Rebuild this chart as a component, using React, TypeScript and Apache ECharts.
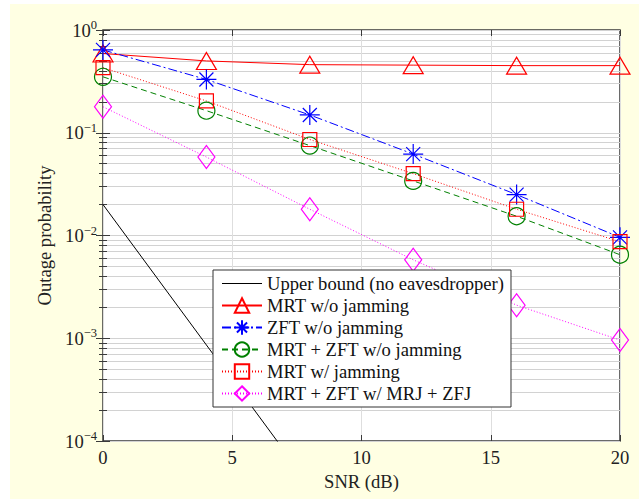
import React, { useEffect, useRef } from "react";
import * as echarts from "echarts";

const snr = [0, 4, 8, 12, 16, 20];
const upperSnr = [0, 4, 8];
const upperBound = [0.02, 8.6e-4, 3.7e-5];
const mrtNoJam = [0.59, 0.5, 0.46, 0.455, 0.45, 0.45];
const zftNoJam = [0.64, 0.33, 0.149, 0.062, 0.025, 0.0096];
const mrtZftNoJam = [0.35, 0.164, 0.075, 0.034, 0.0154, 0.0065];
const mrtJam = [0.43, 0.204, 0.086, 0.04, 0.018, 0.0087];
const mrtZftMrjZfj = [0.179, 0.058, 0.018, 0.0058, 0.0021, 0.00096];

const names = [
  "Upper bound (no eavesdropper)",
  "MRT w/o jamming",
  "ZFT w/o jamming",
  "MRT + ZFT w/o jamming",
  "MRT w/ jamming",
  "MRT + ZFT w/ MRJ + ZFJ",
];

const FONT = "'Liberation Serif', 'Times New Roman', 'DejaVu Serif', serif";
const FS = 18.6;
const STAR = "path://M0,10L20,10M10,0L10,20M3,3L17,17M17,3L3,17";
const CLEAR = "rgba(0,0,0,0)";

function pairs(xs: number[], ys: number[]) {
  return xs.map((x, i) => [x, ys[i]]);
}

function markerSeries(
  name: string,
  ys: number[],
  color: string,
  lineType: any,
  symbol: string,
  symbolSize: any
) {
  return {
    name,
    type: "line",
    data: pairs(snr, ys),
    symbol,
    symbolSize,
    showSymbol: true,
    color,
    lineStyle: { color, width: 1, type: lineType },
    itemStyle: { color: CLEAR, borderColor: color, borderWidth: 1.2 },
    clip: true,
  };
}

export default function App() {
  const ref = useRef<HTMLDivElement>(null);
  useEffect(() => {
    if (!ref.current) return;
    const chart = echarts.init(ref.current, undefined, { renderer: "svg" });
    const supLabel = (v: number) => {
      const e = Math.round(Math.log10(v));
      const s = e < 0 ? "\u2212" + String(-e) : String(e);
      return "{b|10}{s|" + s + "}";
    };
    const rich = {
      b: { fontSize: FS, fontFamily: FONT, color: "#222" },
      s: { fontSize: 12.5, fontFamily: FONT, color: "#222", padding: [0, 0, 10, 0] },
    };
    chart.setOption({
      animation: false,
      backgroundColor: "transparent",
      grid: {
        left: 103,
        top: 30,
        right: 19,
        bottom: 58,
        show: true,
        backgroundColor: "#ffffff",
        borderColor: "#3a3a3a",
        borderWidth: 1.5,
      },
      xAxis: [
        {
          type: "value",
          min: 0,
          max: 20,
          interval: 5,
          name: "SNR (dB)",
          nameLocation: "middle",
          nameGap: 30,
          nameTextStyle: { fontFamily: FONT, fontSize: FS, color: "#222" },
          axisLine: { show: false },
          axisTick: { inside: true, length: 6, lineStyle: { color: "#3a3a3a", width: 1 } },
          axisLabel: { fontFamily: FONT, fontSize: FS, color: "#222", margin: 7 },
          splitLine: { show: true, lineStyle: { color: "#dedede", width: 1 } },
        },
        {
          type: "value",
          position: "top",
          min: 0,
          max: 20,
          interval: 5,
          axisLine: { show: false },
          axisTick: { inside: true, length: 6, lineStyle: { color: "#3a3a3a", width: 1 } },
          axisLabel: { show: false },
          splitLine: { show: false },
        },
      ],
      yAxis: [
        {
          type: "log",
          logBase: 10,
          min: 1e-4,
          max: 1,
          name: "Outage probability",
          nameLocation: "middle",
          nameGap: 46,
          nameTextStyle: { fontFamily: FONT, fontSize: FS, color: "#222" },
          axisLine: { show: false },
          axisTick: { inside: true, length: 7, lineStyle: { color: "#3a3a3a", width: 1 } },
          minorTick: { show: true, splitNumber: 9, length: 4, lineStyle: { color: "#3a3a3a", width: 1 } },
          minorSplitLine: { show: true, lineStyle: { color: "#d2d2d2", width: 1 } },
          axisLabel: { formatter: supLabel, rich, margin: 6 },
          splitLine: { show: true, lineStyle: { color: "#d2d2d2", width: 1 } },
        },
        {
          type: "log",
          logBase: 10,
          min: 1e-4,
          max: 1,
          position: "right",
          axisLine: { show: false },
          axisTick: { inside: true, length: 7, lineStyle: { color: "#3a3a3a", width: 1 } },
          minorTick: { show: true, splitNumber: 9, length: 4, lineStyle: { color: "#3a3a3a", width: 1 } },
          axisLabel: { show: false },
          splitLine: { show: false },
        },
      ],
      legend: {
        orient: "vertical",
        left: 213,
        top: 270,
        padding: [4, 7, 4, 8],
        itemGap: 3,
        itemWidth: 40,
        itemHeight: 18,
        backgroundColor: "#ffffff",
        borderColor: "#333",
        borderWidth: 1,
        borderRadius: 0,
        textStyle: { fontFamily: FONT, fontSize: FS, color: "#111" },
        data: [
          { name: names[0], icon: "path://M0,0L40,0L40,1L0,1Z" },
          names[1],
          names[2],
          names[3],
          names[4],
          names[5],
        ],
      },
      series: [
        {
          name: names[0],
          type: "line",
          data: pairs(upperSnr, upperBound),
          symbol: "none",
          color: "#000",
          lineStyle: { color: "#000", width: 1 },
          itemStyle: { color: "#000" },
          clip: true,
        },
        markerSeries(names[1], mrtNoJam, "#ff0000", "solid", "triangle", [20, 17]),
        markerSeries(names[2], zftNoJam, "#0000ff", [9, 3, 2, 3], STAR, [20, 20]),
        markerSeries(names[3], mrtZftNoJam, "#008000", [6, 4], "circle", 17),
        markerSeries(names[4], mrtJam, "#ff0000", [1, 2], "rect", 14),
        markerSeries(names[5], mrtZftMrjZfj, "#ff00ff", [1, 2], "diamond", [17, 23]),
      ],
    });
    return () => chart.dispose();
  }, []);
  return (
    <div style={{ position: "fixed", left: 0, top: 0, width: 639, height: 499, background: "#ffffff" }}>
      <div style={{ position: "absolute", left: 10, top: 4, right: 0, bottom: 0, background: "#FFFFE3" }} />
      <div ref={ref} style={{ position: "absolute", left: 0, top: 0, width: 639, height: 499 }} />
    </div>
  );
}
